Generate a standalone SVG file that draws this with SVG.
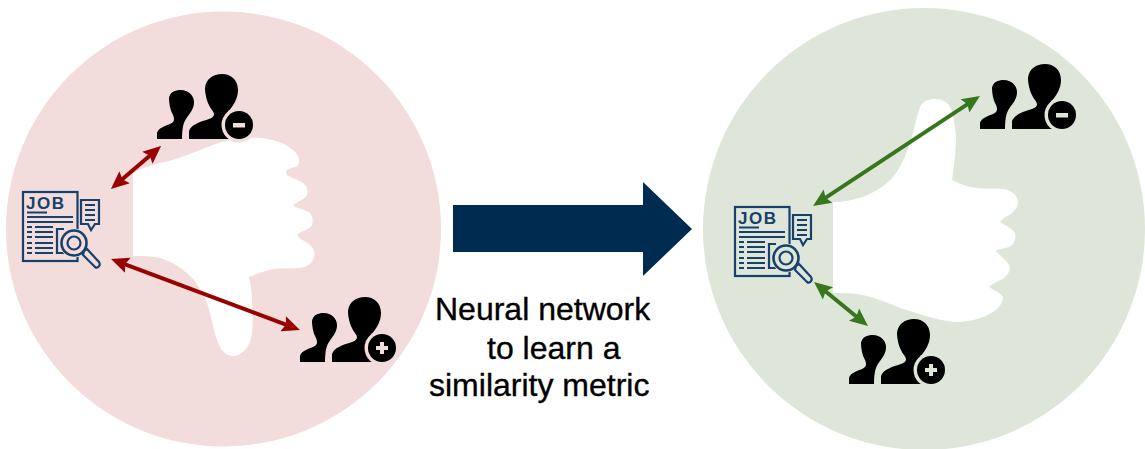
<svg xmlns="http://www.w3.org/2000/svg" width="1145" height="449" viewBox="0 0 1145 449">
<style>
.cap{font-family:"Liberation Sans",Arial,sans-serif;font-size:32px;fill:#000;stroke:#000;stroke-width:.35}
.ln{fill:none;stroke:#17406a;stroke-width:2.2}
.job{font-family:"Liberation Sans",Arial,sans-serif;font-weight:700;font-size:17px;fill:#17406a}
.red{stroke:#990000;stroke-width:4;fill:none;marker-start:url(#hr);marker-end:url(#hr)}
.grn{stroke:#38761d;stroke-width:4;fill:none;marker-start:url(#hg);marker-end:url(#hg)}
</style>
<defs>
<marker id="hr" markerUnits="userSpaceOnUse" markerWidth="20" markerHeight="20" viewBox="0 0 20 20" refX="10" refY="10" orient="auto-start-reverse"><path d="M0 2L18 10L0 18L3 10Z" fill="#990000"/></marker>
<marker id="hg" markerUnits="userSpaceOnUse" markerWidth="20" markerHeight="20" viewBox="0 0 20 20" refX="10" refY="10" orient="auto-start-reverse"><path d="M0 2L18 10L0 18L3 10Z" fill="#38761d"/></marker>
<g id="people">
<path d="M0 65V59C1 54 8 52 13 50C17 48 18 46 16 41C13 36 12 29 12 24C13 18 18 16 24 16C31 16 37 21 37 28C37 34 34 38 31 42C27 47 25 52 25 65Z"/>
<path d="M32 65V57C34 51 42 48 52 45C58 43 58 40 55 36C51 31 48 22 48 14C49 5 56 0 65 0C74 0 81 6 81 16C81 25 76 32 71 38C68 42 69 45 74 47L82 50L72 65Z"/>
<circle cx="82" cy="51" r="17.500" fill="currentColor"/>
<circle cx="82" cy="51" r="14"/>
</g>
<g id="jobicon">
<rect class="ln" x="1" y="1" width="54.500" height="69"/>
<text class="job" x="4" y="18" textLength="38" lengthAdjust="spacing">JOB</text>
<path class="ln" d="M5 21.500H25M5 26H51M5 31H51M5 36H10M13 36H31M5 41H10M13 41H31M5 46H10M13 46H31M5 52H10M13 52H31M5 57H10M13 57H31M5 62H10M13 62H31"/>
<path class="ln" d="M42 38H35V62H42"/>
<circle cx="52" cy="52" r="14.500" fill="currentColor"/>
<circle class="ln" cx="52" cy="52" r="12.500" style="stroke-width:2.600"/>
<circle class="ln" cx="52" cy="52" r="6.500"/>
<path class="ln" d="M62 60L65 58L77 71C79 74 76 78 73 76L61 64Z" style="fill:currentColor"/>
<path class="ln" d="M59 9H77V33H73L69 39L66 33H59Z"/>
<path class="ln" d="M63 14H73M63 19H73M63 24H73M63 29H73"/>
</g>
</defs>
<g id="left-circle">
<circle cx="223.500" cy="229" r="217.500" fill="#f2dcdc"/>
<path id="thumb-down" fill="#fff" d="M133 173C142 168 151 165 160 163C175 160 187 155 200 150C213 145 226 139 240 139C250 138 259 137 267 139C278 141 286 144 290 148C296 152 299 156 299 160C299 164 298 166 295 167C291 168 287 169 286 172C286 175 288 176 290 177C297 180 303 182 305 185C308 189 308 192 307 195C305 200 297 202 293 205C297 209 305 209 310 213C313 217 313 221 312 225C310 230 300 231 297 235C300 240 308 242 312 247C315 251 315 255 313 260C311 264 306 267 300 268C291 269 282 268 273 269C264 271 256 274 249 277C251 285 252 294 252 303C253 313 253 323 252 333C251 345 243 356 233 356C227 356 223 352 220 347C214 335 212 318 207 303C203 292 196 281 187 273C179 266 170 261 160 258C151 256 142 256 133 256Z"/>
</g>
<g id="right-circle">
<circle cx="924" cy="229" r="221" fill="#dee6da"/>
<path id="thumb-up" fill="#fff" d="M833 202C843 202 853 200 863 197C875 192 885 186 893 177C901 167 906 155 910 143C914 131 916 118 920 107C923 101 928 99 935 99C942 99 948 102 950 107C954 116 955 126 956 137C956 152 954 166 952 180C960 184 968 187 977 188C986 189 995 188 1003 189C1011 190 1018 195 1018 202C1018 206 1016 209 1013 212C1009 216 1002 218 1000 222C1004 225 1011 227 1015 233C1016 238 1015 242 1012 245C1008 249 999 248 996 251C1000 256 1007 260 1010 267C1010 271 1008 274 1005 277C1001 281 992 283 989 287C993 290 1000 292 1003 297C1003 303 999 308 993 312C983 318 972 321 960 322C950 322 941 320 933 318C921 315 911 311 900 308C888 303 876 298 863 295C853 293 843 293 833 293Z"/>
</g>
<g id="job-left" color="#f2dcdc"><use href="#jobicon" transform="translate(22 191)"/></g>
<g id="job-right" color="#dee6da"><use href="#jobicon" transform="translate(734 206)"/></g>
<g id="negative-left" color="#f2dcdc" transform="translate(157 74)"><use href="#people"/><rect x="76" y="49" width="12" height="4.500" fill="#f2dcdc"/></g>
<g id="positive-left" color="#f2dcdc" transform="translate(300 297)"><use href="#people"/><path d="M76 49H80V45H84V49H88V53H84V57H80V53H76Z" fill="#f2dcdc"/></g>
<g id="negative-right" color="#dee6da" transform="translate(980 64)"><use href="#people"/><rect x="76" y="49" width="12" height="4.500" fill="#dee6da"/></g>
<g id="positive-right" color="#dee6da" transform="translate(849 319)"><use href="#people"/><path d="M76 49H80V45H84V49H88V53H84V57H80V53H76Z" fill="#dee6da"/></g>
<g id="connectors">
<line class="red" x1="117" y1="183.800" x2="155" y2="151.200"/>
<line class="red" x1="118.500" y1="261.800" x2="292.500" y2="327.200"/>
<line class="grn" x1="819.700" y1="201.600" x2="973.300" y2="100.400"/>
<line class="grn" x1="820.200" y1="287" x2="861.800" y2="321"/>
<path id="main-arrow" d="M453 205H643V182L692 229L643 276V252H453Z" fill="#002b50"/>
</g>
<g id="caption">
<text class="cap" x="435" y="320">Neural network</text>
<text class="cap" x="487" y="359">to learn a</text>
<text class="cap" x="429" y="396">similarity metric</text>
</g>
</svg>
